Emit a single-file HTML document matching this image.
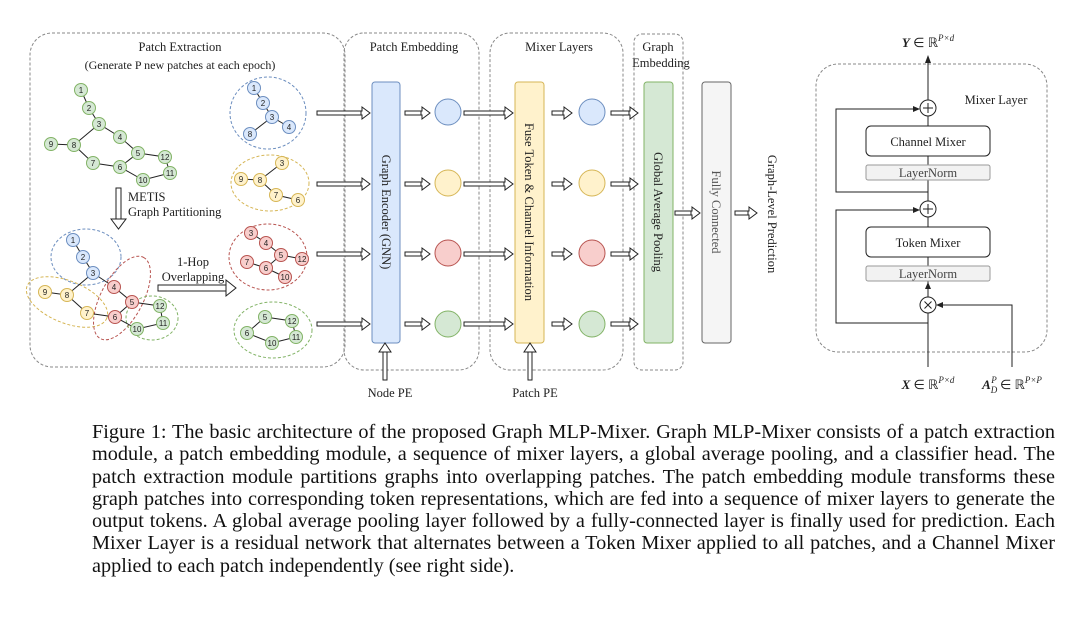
<!DOCTYPE html>
<html><head><meta charset="utf-8"><style>
body{margin:0;background:#fff;width:1080px;height:617px;overflow:hidden;position:relative}
svg{position:absolute;left:0;top:0}
.cap{position:absolute;left:92px;width:963px;font-family:"Liberation Serif",serif;font-size:20.3px;line-height:22.3px;top:421px;text-align:justify;color:#111}
.cap div{text-align:justify;text-align-last:justify;white-space:nowrap}
.cap div.l{text-align-last:left}
</style></head><body>
<svg width="1080" height="617" viewBox="0 0 1080 617" font-family="Liberation Serif, serif">
<defs>
<polygon id="hr" points="-8,-6 0,0 -8,6 -8,2 -9,2 -9,-2 -8,-2" fill="#fff" stroke="#222" stroke-width="1"/>
</defs>
<g fill="none" stroke="#888" stroke-width="1" stroke-dasharray="3,2">
<rect x="30" y="33" width="315" height="334" rx="22"/>
<rect x="344" y="33" width="135" height="337" rx="20"/>
<rect x="490" y="33" width="133" height="337" rx="20"/>
<rect x="634" y="34" width="49" height="336" rx="8"/>
<rect x="816" y="64" width="231" height="288" rx="22"/>
</g>
<g font-size="12.5" fill="#222" text-anchor="middle">
<text x="180" y="51">Patch Extraction</text>
<text x="180" y="69" font-size="12">(Generate P new patches at each epoch)</text>
<text x="414" y="51">Patch Embedding</text>
<text x="559" y="51">Mixer Layers</text>
<text x="658" y="51">Graph</text>
<text x="661" y="67">Embedding</text>
<text x="390" y="397">Node PE</text>
<text x="535" y="397">Patch PE</text>
<text x="996" y="104">Mixer Layer</text>
<text x="193" y="266">1-Hop</text>
<text x="193" y="281">Overlapping</text>
<text x="128" y="201" text-anchor="start">METIS</text>
<text x="128" y="216" text-anchor="start">Graph Partitioning</text>
</g>
<g fill="none" stroke-width="1" stroke-dasharray="3,2">
<ellipse cx="268" cy="113" rx="38" ry="36" stroke="#6c8ebf"/>
<ellipse cx="270" cy="183" rx="39" ry="28" stroke="#d6b656"/>
<ellipse cx="268" cy="257" rx="39" ry="33" stroke="#b85450"/>
<ellipse cx="273" cy="330" rx="39" ry="28" stroke="#82b366"/>
<ellipse cx="86" cy="257" rx="35" ry="28" stroke="#6c8ebf"/>
<ellipse cx="67" cy="302" rx="43" ry="21" stroke="#d6b656" transform="rotate(22 67 302)"/>
<ellipse cx="122" cy="298" rx="46" ry="21" stroke="#b85450" transform="rotate(-62 122 298)"/>
<ellipse cx="152" cy="318" rx="26" ry="22" stroke="#82b366"/>
</g>
<g stroke="#222" stroke-width="1" fill="none">
<path d="M81,90L89,108L99,124L74,145L51,144M99,124L120,137L138,153L165,157L170,173L143,180L120,167L93,163L74,145M138,153L120,167"/>
<path d="M73,240L83,257L93,273L67,295L45,292M93,273L114,287L132,302L160,306L163,323L137,329L115,317L87,313L67,295M132,302L115,317"/>
<path d="M254,88L263,103L272,117L289,127M272,117L250,134"/>
<path d="M282,163L260,180L241,179M260,180L276,195L298,200"/>
<path d="M251,233L266,243L281,255L302,259M281,255L266,268L247,262M266,268L285,277"/>
<path d="M265,317L292,321L296,337L272,343L247,333Z"/>
</g>
<g font-family="Liberation Sans, sans-serif" font-size="8" text-anchor="middle" stroke-width="1">
<g fill="#d5e8d4" stroke="#82b366">
<circle cx="81" cy="90" r="6.5"/><circle cx="89" cy="108" r="6.5"/><circle cx="99" cy="124" r="6.5"/><circle cx="120" cy="137" r="6.5"/><circle cx="138" cy="153" r="6.5"/><circle cx="165" cy="157" r="6.5"/><circle cx="170" cy="173" r="6.5"/><circle cx="143" cy="180" r="6.5"/><circle cx="120" cy="167" r="6.5"/><circle cx="93" cy="163" r="6.5"/><circle cx="74" cy="145" r="6.5"/><circle cx="51" cy="144" r="6.5"/>
<circle cx="160" cy="306" r="6.5"/><circle cx="163" cy="323" r="6.5"/><circle cx="137" cy="329" r="6.5"/>
<circle cx="265" cy="317" r="6.5"/><circle cx="292" cy="321" r="6.5"/><circle cx="296" cy="337" r="6.5"/><circle cx="272" cy="343" r="6.5"/><circle cx="247" cy="333" r="6.5"/>
</g>
<g fill="#dae8fc" stroke="#6c8ebf">
<circle cx="73" cy="240" r="6.5"/><circle cx="83" cy="257" r="6.5"/><circle cx="93" cy="273" r="6.5"/>
<circle cx="254" cy="88" r="6.5"/><circle cx="263" cy="103" r="6.5"/><circle cx="272" cy="117" r="6.5"/><circle cx="289" cy="127" r="6.5"/><circle cx="250" cy="134" r="6.5"/>
</g>
<g fill="#fff2cc" stroke="#d6b656">
<circle cx="45" cy="292" r="6.5"/><circle cx="67" cy="295" r="6.5"/><circle cx="87" cy="313" r="6.5"/>
<circle cx="282" cy="163" r="6.5"/><circle cx="260" cy="180" r="6.5"/><circle cx="241" cy="179" r="6.5"/><circle cx="276" cy="195" r="6.5"/><circle cx="298" cy="200" r="6.5"/>
</g>
<g fill="#f8cecc" stroke="#b85450">
<circle cx="114" cy="287" r="6.5"/><circle cx="132" cy="302" r="6.5"/><circle cx="115" cy="317" r="6.5"/>
<circle cx="251" cy="233" r="6.5"/><circle cx="266" cy="243" r="6.5"/><circle cx="281" cy="255" r="6.5"/><circle cx="302" cy="259" r="6.5"/><circle cx="247" cy="262" r="6.5"/><circle cx="266" cy="268" r="6.5"/><circle cx="285" cy="277" r="6.5"/>
</g>
<g fill="#222">
<text x="81" y="93">1</text><text x="89" y="111">2</text><text x="99" y="127">3</text><text x="120" y="140">4</text><text x="138" y="156">5</text><text x="165" y="160">12</text><text x="170" y="176">11</text><text x="143" y="183">10</text><text x="120" y="170">6</text><text x="93" y="166">7</text><text x="74" y="148">8</text><text x="51" y="147">9</text>
<text x="73" y="243">1</text><text x="83" y="260">2</text><text x="93" y="276">3</text><text x="114" y="290">4</text><text x="132" y="305">5</text><text x="160" y="309">12</text><text x="163" y="326">11</text><text x="137" y="332">10</text><text x="115" y="320">6</text><text x="87" y="316">7</text><text x="67" y="298">8</text><text x="45" y="295">9</text>
<text x="254" y="91">1</text><text x="263" y="106">2</text><text x="272" y="120">3</text><text x="289" y="130">4</text><text x="250" y="137">8</text>
<text x="282" y="166">3</text><text x="260" y="183">8</text><text x="241" y="182">9</text><text x="276" y="198">7</text><text x="298" y="203">6</text>
<text x="251" y="236">3</text><text x="266" y="246">4</text><text x="281" y="258">5</text><text x="302" y="262">12</text><text x="247" y="265">7</text><text x="266" y="271">6</text><text x="285" y="280">10</text>
<text x="265" y="320">5</text><text x="292" y="324">12</text><text x="296" y="340">11</text><text x="272" y="346">10</text><text x="247" y="336">6</text>
</g>
</g>
<rect x="372" y="82" width="28" height="261" rx="3" fill="#dae8fc" stroke="#6c8ebf"/>
<rect x="515" y="82" width="29" height="261" rx="3" fill="#fff2cc" stroke="#d6b656"/>
<rect x="644" y="82" width="29" height="261" rx="3" fill="#d5e8d4" stroke="#82b366"/>
<rect x="702" y="82" width="29" height="261" rx="3" fill="#f5f5f5" stroke="#666"/>
<g font-size="12.5" fill="#222" text-anchor="middle">
<text transform="translate(382,212) rotate(90)">Graph Encoder (GNN)</text>
<text transform="translate(525,212) rotate(90)">Fuse Token &amp; Channel Information</text>
<text transform="translate(654,212) rotate(90)">Global Average Pooling</text>
<text transform="translate(712,212) rotate(90)" fill="#555">Fully Connected</text>
<text transform="translate(768,214) rotate(90)">Graph-Level Prediction</text>
</g>
<g stroke-width="1">
<circle cx="448" cy="112" r="13" fill="#dae8fc" stroke="#6c8ebf"/><circle cx="448" cy="183" r="13" fill="#fff2cc" stroke="#d6b656"/><circle cx="448" cy="253" r="13" fill="#f8cecc" stroke="#b85450"/><circle cx="448" cy="324" r="13" fill="#d5e8d4" stroke="#82b366"/>
<circle cx="592" cy="112" r="13" fill="#dae8fc" stroke="#6c8ebf"/><circle cx="592" cy="183" r="13" fill="#fff2cc" stroke="#d6b656"/><circle cx="592" cy="253" r="13" fill="#f8cecc" stroke="#b85450"/><circle cx="592" cy="324" r="13" fill="#d5e8d4" stroke="#82b366"/>
</g>
<g fill="#fff" stroke="#222" stroke-width="1">
<rect x="317" y="111" width="45" height="4"/><rect x="317" y="182" width="45" height="4"/><rect x="317" y="252" width="45" height="4"/><rect x="317" y="322" width="45" height="4"/>
<rect x="405" y="111" width="17" height="4"/><rect x="405" y="182" width="17" height="4"/><rect x="405" y="252" width="17" height="4"/><rect x="405" y="322" width="17" height="4"/>
<rect x="464" y="111" width="41" height="4"/><rect x="464" y="182" width="41" height="4"/><rect x="464" y="252" width="41" height="4"/><rect x="464" y="322" width="41" height="4"/>
<rect x="552" y="111" width="12" height="4"/><rect x="552" y="182" width="12" height="4"/><rect x="552" y="252" width="12" height="4"/><rect x="552" y="322" width="12" height="4"/>
<rect x="611" y="111" width="19" height="4"/><rect x="611" y="182" width="19" height="4"/><rect x="611" y="252" width="19" height="4"/><rect x="611" y="322" width="19" height="4"/>
<rect x="675" y="211" width="17" height="4"/><rect x="735" y="211" width="14" height="4"/>
<rect x="158" y="285" width="69" height="6"/>
<rect x="116" y="188" width="5" height="32"/>
<rect x="383" y="351" width="4" height="29"/><rect x="528" y="351" width="4" height="29"/>
</g>
<g>
<use href="#hr" x="370" y="113"/><use href="#hr" x="370" y="184"/><use href="#hr" x="370" y="254"/><use href="#hr" x="370" y="324"/>
<use href="#hr" x="430" y="113"/><use href="#hr" x="430" y="184"/><use href="#hr" x="430" y="254"/><use href="#hr" x="430" y="324"/>
<use href="#hr" x="513" y="113"/><use href="#hr" x="513" y="184"/><use href="#hr" x="513" y="254"/><use href="#hr" x="513" y="324"/>
<use href="#hr" x="572" y="113"/><use href="#hr" x="572" y="184"/><use href="#hr" x="572" y="254"/><use href="#hr" x="572" y="324"/>
<use href="#hr" x="638" y="113"/><use href="#hr" x="638" y="184"/><use href="#hr" x="638" y="254"/><use href="#hr" x="638" y="324"/>
<use href="#hr" x="700" y="213"/><use href="#hr" x="757" y="213"/>
</g>
<g fill="#fff" stroke="#222">
<polygon points="226,280 236,288 226,296"/>
<polygon points="111,219 118.5,229 126,219"/>
<polygon points="379,352 385,343 391,352"/><polygon points="524,352 530,343 536,352"/>
</g>
<g stroke="#222" stroke-width="1" fill="none">
<path d="M928,367V116M928,100V62"/>
<path d="M928,323H836V210H917M928,192H836V109H917"/>
<path d="M1012,367V305H939"/>
</g>
<g fill="#222">
<polygon points="928,55 925,63 931,63"/>
<polygon points="920,109 913,106 913,112"/><polygon points="920,210 913,207 913,213"/>
<polygon points="936,305 943,302 943,308"/>
<polygon points="928,282 925,289 931,289"/>
</g>
<g stroke="#222" fill="#fff">
<circle cx="928" cy="108" r="8"/><circle cx="928" cy="209" r="8"/><circle cx="928" cy="305" r="8"/>
<rect x="866" y="126" width="124" height="30" rx="5"/>
<rect x="866" y="227" width="124" height="30" rx="5"/>
</g>
<g fill="#f2f2f2" stroke="#999">
<rect x="866" y="165" width="124" height="15" rx="2"/>
<rect x="866" y="266" width="124" height="15" rx="2"/>
</g>
<g stroke="#222" stroke-width="1">
<path d="M923,108H933M928,103V113M923,209H933M928,204V214M924.5,301.5L931.5,308.5M931.5,301.5L924.5,308.5"/>
</g>
<g font-size="12.5" text-anchor="middle" fill="#222">
<text x="928" y="146">Channel Mixer</text>
<text x="928" y="247">Token Mixer</text>
<text x="928" y="177" fill="#444">LayerNorm</text>
<text x="928" y="278" fill="#444">LayerNorm</text>
<text x="928" y="47" font-size="13"><tspan font-weight="bold" font-style="italic">Y</tspan> ∈ ℝ<tspan font-size="9" dy="-6" font-style="italic">P×d</tspan></text>
<text x="928" y="389" font-size="13"><tspan font-weight="bold" font-style="italic">X</tspan> ∈ ℝ<tspan font-size="9" dy="-6" font-style="italic">P×d</tspan></text>
<text x="1012" y="389" font-size="13"><tspan font-weight="bold" font-style="italic">A</tspan><tspan font-size="9" dy="4" font-style="italic">D</tspan><tspan font-size="9" dx="-6" dy="-10" font-style="italic">P</tspan><tspan dy="6"> ∈ ℝ</tspan><tspan font-size="9" dy="-6" font-style="italic">P×P</tspan></text>
</g>
</svg>
<div class="cap">
<div>Figure 1: The basic architecture of the proposed Graph MLP-Mixer. Graph MLP-Mixer consists of a patch extraction</div>
<div>module, a patch embedding module, a sequence of mixer layers, a global average pooling, and a classifier head. The</div>
<div>patch extraction module partitions graphs into overlapping patches. The patch embedding module transforms these</div>
<div>graph patches into corresponding token representations, which are fed into a sequence of mixer layers to generate the</div>
<div>output tokens. A global average pooling layer followed by a fully-connected layer is finally used for prediction. Each</div>
<div>Mixer Layer is a residual network that alternates between a Token Mixer applied to all patches, and a Channel Mixer</div>
<div class="l">applied to each patch independently (see right side).</div>
</div>
</body></html>
